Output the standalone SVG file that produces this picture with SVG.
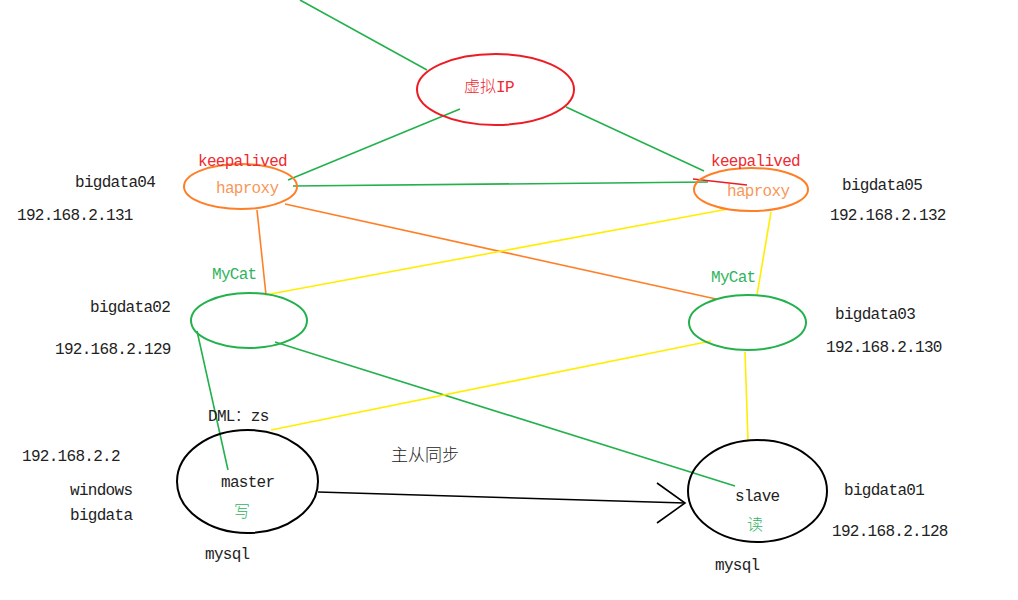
<svg xmlns="http://www.w3.org/2000/svg" width="1018" height="600" viewBox="0 0 1018 600">
<style>
.t{font-family:"Liberation Mono","Noto Sans CJK SC",monospace;font-size:16px;letter-spacing:-0.7px;fill:#222}
.cj{font-family:"Noto Sans CJK SC",sans-serif;font-size:16px;letter-spacing:0;font-weight:300}
.red{fill:#ee2a32}
.org{fill:#f7985a}
.grn{fill:#2fb45e}
.e{fill:none;stroke-width:2}
.l{fill:none;stroke-width:1.6}
.g{stroke:#22b14c}
.o{stroke:#ff7f27}
.y{stroke:#ffee00}
.r{stroke:#ed1c24}
.k{stroke:#000}
</style>
<rect width="1018" height="600" fill="#fff"/>
<g id="connectors">
<line class="l g" x1="300" y1="0" x2="427" y2="70"/>
<line class="l g" x1="288" y1="180" x2="460" y2="109"/>
<line class="l g" x1="566" y1="107" x2="704" y2="171"/>
<line class="l g" x1="293" y1="186" x2="708" y2="182"/>
<line class="l r" x1="693" y1="179" x2="747" y2="185"/>
<line class="l o" x1="257" y1="210" x2="266" y2="295"/>
<line class="l o" x1="285" y1="204" x2="716" y2="299"/>
<line class="l y" x1="265" y1="295" x2="728" y2="209"/>
<line class="l y" x1="771" y1="212" x2="757" y2="295"/>
<line class="l g" x1="197" y1="331" x2="228" y2="470"/>
<line class="l g" x1="275" y1="342" x2="735" y2="486"/>
<line class="l y" x1="271" y1="430" x2="711" y2="341"/>
<line class="l y" x1="745" y1="352" x2="748" y2="441"/>
<line class="l k" x1="318" y1="492" x2="685" y2="503"/>
<polyline class="l k" points="657,483 685,503 657,523"/>
</g>
<g id="vip">
<ellipse class="e r" cx="495.5" cy="89.5" rx="78.5" ry="35.5"/>
<text class="t red" x="464" y="92"><tspan class="cj">虚拟</tspan>IP</text>
</g>
<g id="haproxy04">
<ellipse class="e o" cx="240.5" cy="186.5" rx="56.5" ry="22.5"/>
<text class="t red" x="198" y="166">keepalived</text>
<text class="t org" x="216" y="193">haproxy</text>
<text class="t" x="75" y="187">bigdata04</text>
<text class="t" x="17" y="220">192.168.2.131</text>
</g>
<g id="haproxy05">
<ellipse class="e o" cx="751" cy="189.5" rx="57" ry="21.5"/>
<text class="t red" x="711" y="166">keepalived</text>
<text class="t org" x="727" y="196">haproxy</text>
<text class="t" x="842" y="190">bigdata05</text>
<text class="t" x="830" y="220">192.168.2.132</text>
</g>
<g id="mycat02">
<ellipse class="e g" cx="249" cy="320.5" rx="58" ry="27.5"/>
<text class="t grn" x="212" y="279">MyCat</text>
<text class="t" x="90" y="312">bigdata02</text>
<text class="t" x="55" y="354">192.168.2.129</text>
</g>
<g id="mycat03">
<ellipse class="e g" cx="747.5" cy="322.5" rx="58.5" ry="27.5"/>
<text class="t grn" x="711" y="282">MyCat</text>
<text class="t" x="835" y="319">bigdata03</text>
<text class="t" x="826" y="352">192.168.2.130</text>
</g>
<g id="master">
<ellipse class="e k" cx="247.5" cy="481.5" rx="70.5" ry="51.5"/>
<text class="t" x="208" y="421">DML<tspan class="cj">：</tspan>zs</text>
<text class="t" x="221" y="487">master</text>
<text class="t cj grn" x="234" y="517">写</text>
<text class="t" x="205" y="559">mysql</text>
<text class="t" x="22" y="461">192.168.2.2</text>
<text class="t" x="70" y="495">windows</text>
<text class="t" x="70" y="520">bigdata</text>
</g>
<g id="sync">
<text class="t cj" x="391" y="461" style="font-size:17px">主从同步</text>
</g>
<g id="slave">
<ellipse class="e k" cx="757.5" cy="491" rx="69.5" ry="51"/>
<text class="t" x="735" y="501">slave</text>
<text class="t cj grn" x="747" y="530">读</text>
<text class="t" x="715" y="570">mysql</text>
<text class="t" x="844" y="495">bigdata01</text>
<text class="t" x="832" y="536">192.168.2.128</text>
</g>
</svg>
